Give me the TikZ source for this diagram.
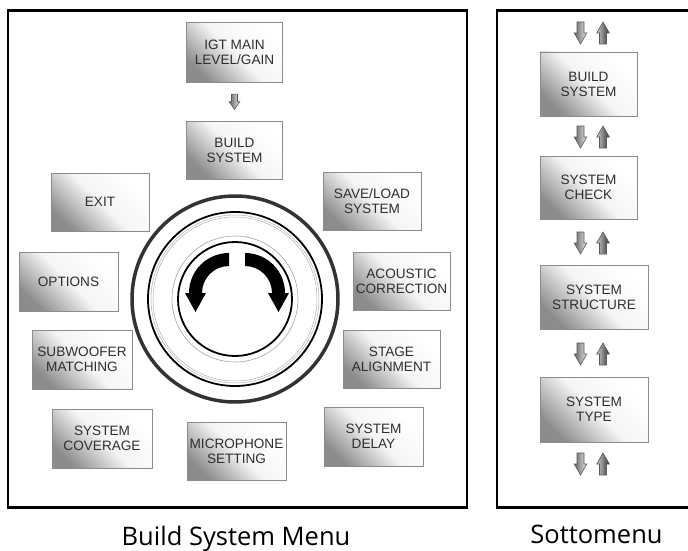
\documentclass[tikz,border=0pt]{standalone}
\usepackage{fontspec}
\setmainfont{Liberation Sans}
\newfontfamily\capfont{Open Sans}
\usetikzlibrary{calc}
\begin{document}
\begin{tikzpicture}[x=1pt,y=-1pt,
  menubox/.style={draw=black!45, line width=0.7pt,
    top color=white, bottom color=black!45, middle color=black!4, shading angle=-45,
    inner sep=0pt, outer sep=0pt, minimum width=98pt, minimum height=58pt,
    align=center, font=\fontsize{13.6}{15}\selectfont, text=black!82},
  panel/.style={draw=black, line width=2.6pt, inner sep=0pt, outer sep=0pt},
  ring/.style={circle, inner sep=0pt, outer sep=0pt},
  caption/.style={font=\capfont\fontsize{25.5}{30}\selectfont, anchor=base, inner sep=0pt},
  arrdown/.pic={\draw[draw=black!65, line width=0.6pt, left color=black!62, right color=black!8]
      (-3.5,-11) -- (3.5,-11) -- (3.5,0) -- (6.3,0) -- (0,11) -- (-6.3,0) -- (-3.5,0) -- cycle;},
  arrup/.pic={\draw[draw=black!65, line width=0.6pt, left color=black!20, right color=black!80]
      (-3.5,11) -- (3.5,11) -- (3.5,0) -- (6.3,0) -- (0,-11) -- (-6.3,0) -- (-3.5,0) -- cycle;}
]
\useasboundingbox (0,0) rectangle (688,551);
\clip (0,0) rectangle (688,551);
\fill[white] (0,0) rectangle (688,551);

% panels
\node[panel, minimum width=459pt, minimum height=497pt] (leftpanel) at (237.5,259) {};
\node[panel, minimum width=223pt, minimum height=497pt] (rightpanel) at (608.5,259) {};

% knob
\node[ring, draw=black!80, line width=3.5pt, minimum size=206pt] (knobouter) at (235,299) {};
\node[ring, draw=black, line width=1.8pt, minimum size=174pt] (knobring) at (235,299) {};
\node[ring, draw=black!30, line width=0.5pt, minimum size=168pt] (knobgA) at (235,299) {};
\node[ring, draw=black!30, line width=0.5pt, minimum size=164pt] (knobgB) at (235,299) {};
\node[ring, draw=black!35, line width=0.6pt, minimum size=126pt] (knobgC) at (235,299) {};
\node[ring, draw=black, line width=1.8pt, minimum size=114pt] (knobinner) at (235,299) {};

% rotation arrows
\fill[black] (229,253) arc[start angle=270, end angle=180, radius=40]
  -- (185,293) -- (195.5,312) -- (206,293) -- (202,293)
  arc[start angle=180, end angle=270, radius=27] -- cycle;
\fill[black] (245,253) arc[start angle=270, end angle=360, radius=40]
  -- (289,293) -- (278.5,312) -- (268,293) -- (272,293)
  arc[start angle=360, end angle=270, radius=27] -- cycle;

% left menu boxes
\node[menubox, minimum width=96pt, minimum height=60pt] (igt) at (234.5,52.5) {IGT MAIN\\LEVEL/GAIN};
\node[menubox, minimum width=96pt] (build) at (234.5,150) {BUILD\\SYSTEM};
\node[menubox] (exit) at (100,202) {EXIT};
\node[menubox] (saveload) at (372,201.5) {SAVE/LOAD\\SYSTEM};
\node[menubox, minimum width=99pt, minimum height=59pt] (options) at (68.5,281.5) {OPTIONS};
\node[menubox, minimum width=97pt] (acoustic) at (401.5,281) {ACOUSTIC\\CORRECTION};
\node[menubox, minimum width=100pt, minimum height=59pt] (subwoofer) at (82,359.5) {SUBWOOFER\\MATCHING};
\node[menubox, minimum width=97pt] (stage) at (391.5,359) {STAGE\\ALIGNMENT};
\node[menubox, minimum width=100pt, minimum height=59pt] (coverage) at (102,438.5) {SYSTEM\\COVERAGE};
\node[menubox, minimum width=99pt] (micro) at (236.5,451) {MICROPHONE\\SETTING};
\node[menubox, minimum width=99pt, minimum height=59pt] (delay) at (373.5,436.5) {SYSTEM\\DELAY};

\pic[xscale=0.85, yscale=0.7] at ($(igt.south)!0.5!(build.north)$) {arrdown};

% right submenu boxes
\node[menubox, minimum width=97pt, minimum height=64pt] (sbuild) at (588.5,84) {BUILD\\SYSTEM};
\node[menubox, minimum width=97pt, minimum height=63pt] (scheck) at (588.5,187.5) {SYSTEM\\CHECK};
\node[menubox, minimum width=108pt, minimum height=64pt] (sstruct) at (594,297) {SYSTEM\\STRUCTURE};
\node[menubox, minimum width=108pt, minimum height=65pt] (stype) at (594,409.5) {SYSTEM\\TYPE};

\foreach \yy in {33, 137, 243, 354, 464}{
  \pic at (580.5,\yy) {arrdown};
  \pic at (603,\yy) {arrup};
}

% captions
\node[caption] (capleft) at (236,545) {Build System Menu};
\node[caption] (capright) at (596.5,543) {Sottomenu};
\end{tikzpicture}
\end{document}
